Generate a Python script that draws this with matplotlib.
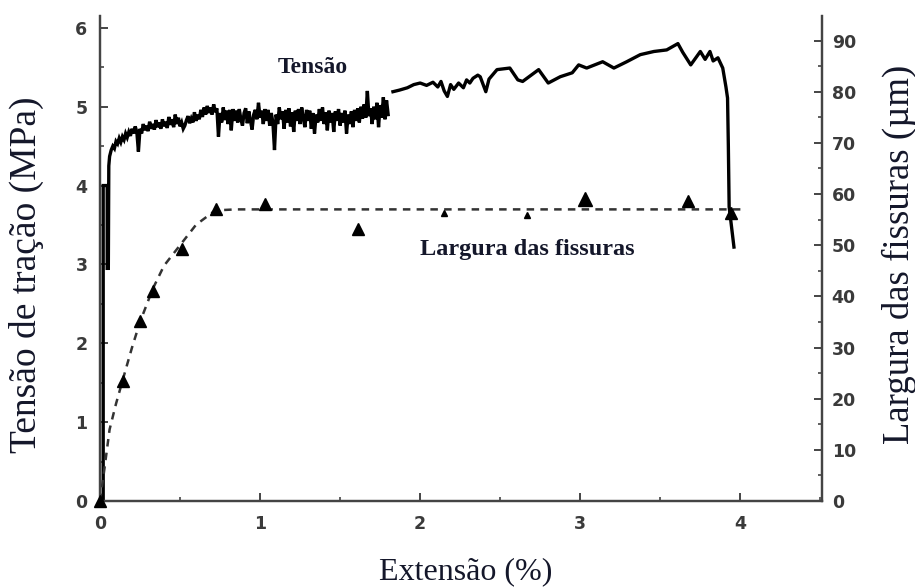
import numpy as np
import matplotlib
matplotlib.use('Agg')
from matplotlib import pyplot as plt
from matplotlib.ticker import MultipleLocator

plt.close('all')

# Tension curve (Extensao %, MPa)
# initial rise
ext_subida = [0.02, 0.02, 0.045, 0.045, 0.052, 0.055]
tensao_subida = [0.0, 4.0, 4.0, 2.95, 2.95, 4.25]

# noisy first plateau, (extensao, tensao) pairs
patamar1 = [
    (0.06, 4.37), (0.07, 4.45), (0.08, 4.50), (0.09, 4.47), (0.10, 4.56), (0.11, 4.53),
    (0.12, 4.60), (0.13, 4.55), (0.14, 4.62), (0.15, 4.58), (0.16, 4.66), (0.17, 4.61),
    (0.18, 4.68), (0.19, 4.63), (0.20, 4.72), (0.21, 4.66), (0.22, 4.75), (0.23, 4.68),
    (0.24, 4.43), (0.25, 4.72), (0.26, 4.66), (0.27, 4.78), (0.28, 4.70), (0.29, 4.76),
    (0.30, 4.69), (0.31, 4.81), (0.32, 4.72), (0.33, 4.78), (0.34, 4.71), (0.35, 4.83),
    (0.36, 4.74), (0.37, 4.80), (0.38, 4.72), (0.39, 4.84), (0.40, 4.75), (0.41, 4.81),
    (0.42, 4.73), (0.43, 4.87), (0.44, 4.77), (0.45, 4.84), (0.46, 4.74), (0.47, 4.90),
    (0.48, 4.78), (0.49, 4.86), (0.50, 4.75), (0.51, 4.80), (0.52, 4.72), (0.53, 4.76),
    (0.54, 4.83), (0.55, 4.88), (0.56, 4.79), (0.57, 4.85), (0.58, 4.80), (0.59, 4.93),
    (0.60, 4.82), (0.61, 4.90), (0.62, 4.84), (0.63, 4.96), (0.64, 4.87), (0.65, 4.99),
    (0.66, 4.90), (0.67, 5.01), (0.68, 4.92), (0.69, 4.99), (0.70, 4.90), (0.71, 5.03),
    (0.72, 4.93), (0.73, 4.98), (0.74, 4.62), (0.75, 4.92), (0.76, 4.80), (0.77, 4.99),
    (0.78, 4.83), (0.79, 4.95), (0.80, 4.78), (0.81, 4.96), (0.82, 4.70), (0.83, 4.97),
    (0.84, 4.82), (0.85, 4.95), (0.86, 4.80), (0.87, 4.97), (0.88, 4.84), (0.89, 4.76),
    (0.90, 4.92), (0.91, 4.98), (0.92, 4.79), (0.93, 4.94), (0.94, 4.82), (0.95, 4.71),
    (0.96, 4.90), (0.97, 4.96), (0.98, 4.84), (0.99, 5.05), (1.00, 4.86), (1.01, 4.95),
    (1.02, 4.78), (1.03, 4.97), (1.04, 4.82), (1.05, 4.96), (1.06, 4.76), (1.07, 4.92),
    (1.08, 4.80), (1.09, 4.45), (1.10, 4.90), (1.11, 4.78), (1.12, 4.99), (1.13, 4.84),
    (1.14, 4.94), (1.15, 4.72), (1.16, 4.96), (1.17, 4.80), (1.18, 4.98), (1.19, 4.75),
    (1.20, 4.93), (1.21, 4.68), (1.22, 4.95), (1.23, 4.82), (1.24, 4.97), (1.25, 4.78),
    (1.26, 4.99), (1.27, 4.85), (1.28, 4.74), (1.29, 4.96), (1.30, 4.82), (1.31, 4.95),
    (1.32, 4.72), (1.33, 4.92), (1.34, 4.66), (1.35, 4.90), (1.36, 4.80), (1.37, 4.97),
    (1.38, 4.82), (1.39, 4.99), (1.40, 4.78), (1.41, 4.93), (1.42, 4.70), (1.43, 4.95),
    (1.44, 4.80), (1.45, 4.92), (1.46, 4.68), (1.47, 4.94), (1.48, 4.82), (1.49, 4.97),
    (1.50, 4.76), (1.51, 4.92), (1.52, 4.80), (1.53, 4.95), (1.54, 4.66), (1.55, 4.90),
    (1.56, 4.78), (1.57, 4.94), (1.58, 4.74), (1.59, 4.96), (1.60, 4.82), (1.61, 4.98),
    (1.62, 4.80), (1.63, 5.00), (1.64, 4.85), (1.65, 5.03), (1.66, 4.86), (1.67, 5.20),
    (1.68, 4.88), (1.69, 4.98), (1.70, 4.78), (1.71, 5.00), (1.72, 4.84), (1.73, 5.05),
    (1.74, 4.74), (1.75, 5.02), (1.76, 4.86), (1.77, 5.12), (1.78, 4.84), (1.79, 5.08),
    (1.80, 4.90),
]

# second plateau up to rupture
ext_patamar2 = [1.83, 1.87, 1.92, 1.96, 2.00, 2.04, 2.08, 2.11, 2.13, 2.15, 2.17, 2.19,
                2.21, 2.24, 2.27, 2.29, 2.31, 2.33, 2.36, 2.375, 2.41, 2.43, 2.48, 2.56,
                2.61, 2.64, 2.74, 2.80, 2.875, 2.95, 2.99, 3.04, 3.14, 3.21, 3.29, 3.375,
                3.46, 3.54, 3.61, 3.64, 3.69, 3.75, 3.78, 3.81, 3.83, 3.86, 3.89, 3.91,
                3.92, 3.925, 3.93, 3.96]
tensao_patamar2 = [5.19, 5.21, 5.24, 5.28, 5.30, 5.27, 5.31, 5.25, 5.32, 5.20, 5.13, 5.28,
                   5.22, 5.30, 5.24, 5.34, 5.30, 5.36, 5.40, 5.38, 5.19, 5.35, 5.47, 5.49,
                   5.34, 5.32, 5.47, 5.30, 5.38, 5.43, 5.53, 5.49, 5.57, 5.49, 5.57, 5.66,
                   5.70, 5.72, 5.80, 5.69, 5.53, 5.70, 5.60, 5.70, 5.58, 5.62, 5.49, 5.25,
                   5.11, 4.50, 3.73, 3.22]

# Crack width measurements (um) and the fitted dotted curve
ext_largura = [0.0, 0.145, 0.25, 0.33, 0.51, 0.725, 1.03, 1.61, 2.15, 2.67, 3.03, 3.67, 3.94]
largura = [0.0, 23.5, 35.2, 41.0, 49.3, 57.0, 58.1, 53.2, 56.2, 56.0, 59.1, 58.7, 56.2]
ext_ajuste = [0.0, 0.02, 0.06, 0.10, 0.145, 0.20, 0.25, 0.33, 0.40, 0.50, 0.60, 0.72, 0.85, 4.03]
ajuste = [0.0, 4.5, 14.0, 19.0, 24.0, 30.0, 35.0, 41.5, 46.0, 50.0, 54.0, 56.8, 57.0, 57.0]

label_color = '#14172a'
tick_color = '#3a3a3a'

fig = plt.figure(figsize=(9.15, 5.87), dpi=100)
ax = fig.add_axes([100/915, 1 - 501/587, 722/915, 485/587])
ax2 = ax.twinx()

# stress curve: rise + first plateau, then second plateau after the small gap
ext_p1 = ext_subida + [p[0] for p in patamar1]
ten_p1 = tensao_subida + [p[1] for p in patamar1]
ax.plot(ext_p1, ten_p1, color='black', lw=2.4, solid_joinstyle='miter')
ax.plot(ext_patamar2, tensao_patamar2, color='black', lw=2.4)

# crack width: dotted fit + triangles
ax2.plot(ext_ajuste, ajuste, color='#333333', lw=1.8, linestyle=(0, (3, 2.5)))
tri_sizes = [9, 9, 9, 9, 9, 9, 9, 9, 5, 4, 10, 9, 9]
for xv, yv, ms in zip(ext_largura, largura, tri_sizes):
    ax2.plot(xv, yv, marker='^', color='black', markersize=ms, clip_on=False, zorder=5)

ax.set_xlim(0, 4.51)
ax.set_ylim(0, 6.15)
ax2.set_ylim(0, 94.8)

for a in (ax, ax2):
    a.spines['top'].set_visible(False)
    for s in ('left', 'right', 'bottom'):
        a.spines[s].set_color('#444444')
        a.spines[s].set_linewidth(1.6)

ax.xaxis.set_major_locator(MultipleLocator(1))
ax.xaxis.set_minor_locator(MultipleLocator(0.5))
ax.yaxis.set_major_locator(MultipleLocator(1))
ax.yaxis.set_minor_locator(MultipleLocator(0.5))
ax2.yaxis.set_major_locator(MultipleLocator(10))
ax2.yaxis.set_minor_locator(MultipleLocator(5))

ax.tick_params(axis='both', which='major', direction='in', length=6, width=1.4, color='#444444')
ax.tick_params(axis='both', which='minor', direction='in', length=3, width=1.2, color='#444444')
ax.tick_params(axis='x', pad=10)
ax.tick_params(axis='y', pad=9)
ax2.tick_params(axis='y', which='major', direction='in', length=6, width=1.4, color='#444444', pad=7)
ax2.tick_params(axis='y', which='minor', direction='in', length=3, width=1.2, color='#444444')

for lab in ax.get_xticklabels() + ax.get_yticklabels() + ax2.get_yticklabels():
    lab.set_fontfamily('DejaVu Sans')
    lab.set_fontweight('bold')
    lab.set_fontsize(12.5)
    lab.set_color(tick_color)

# axis titles placed by hand to follow the original layout
fig.text(466/915, 1 - 572/587, 'Extensão (%)', family='Liberation Serif', fontsize=23,
         color=label_color, ha='center', va='center')
fig.text(26/915, 1 - 275/587, 'Tensão de tração (MPa)', family='Liberation Serif', fontsize=27,
         color=label_color, ha='center', va='center', rotation=90)
fig.text(899/915, 1 - 254/587, 'Largura das fissuras (µm)', family='Liberation Serif', fontsize=26.5,
         color=label_color, ha='center', va='center', rotation=90)

# curve annotations
ax.text(1.33, 5.5, 'Tensão', family='Liberation Serif', weight='bold', fontsize=17,
        color=label_color, ha='center', va='center')
ax.text(2.67, 3.19, 'Largura das fissuras', family='Liberation Serif', weight='bold', fontsize=17.5,
        color=label_color, ha='center', va='center')

fig.savefig('out.png', dpi=100)
